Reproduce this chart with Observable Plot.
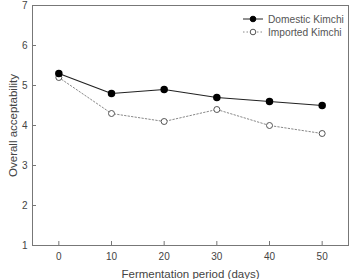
<!DOCTYPE html>
<html><head><meta charset="utf-8">
<script src="https://cdn.jsdelivr.net/npm/d3@7"></script>
<script src="https://cdn.jsdelivr.net/npm/@observablehq/plot@0.6"></script>
<style>
body{margin:0;background:#fff;font-family:"Liberation Sans",Arial,sans-serif;}
#wrap{position:relative;width:350px;height:279px;}
#legend{position:absolute;left:0;top:0;pointer-events:none;}
</style></head>
<body><div id="wrap"></div>
<script>
const days = [0, 10, 20, 30, 40, 50];
const domestic = [5.3, 4.8, 4.9, 4.7, 4.6, 4.5];
const imported = [5.2, 4.3, 4.1, 4.4, 4.0, 3.8];
const seriesNames = ["Domestic Kimchi", "Imported Kimchi"];
const xTicks = [0, 10, 20, 30, 40, 50];
const yTicks = [1, 2, 3, 4, 5, 6, 7];

const dom = days.map((d, i) => ({day: d, v: domestic[i]}));
const imp = days.map((d, i) => ({day: d, v: imported[i]}));

const chart = Plot.plot({
  width: 350, height: 279,
  marginLeft: 32, marginRight: 2, marginTop: 5, marginBottom: 34,
  style: {fontFamily: "Liberation Sans, Arial, sans-serif", fontSize: "10px", color: "#444", background: "#fff"},
  x: {domain: [-5, 55]},
  y: {domain: [1, 7]},
  marks: [
    Plot.frame({stroke: "#777", strokeWidth: 1}),
    Plot.axisX(xTicks, {tickSize: 0, tickPadding: 7, fontSize: 10, fill: "#444", label: "Fermentation period (days)", labelAnchor: "center", labelArrow: "none", labelOffset: 32}),
    Plot.axisX(xTicks, {tickSize: -4, text: null, label: null, stroke: "#777"}),
    Plot.axisY(yTicks, {tickSize: 0, tickPadding: 5, fontSize: 10, fill: "#444", label: "Overall acceptability", labelAnchor: "center", labelArrow: "none", labelOffset: 24}),
    Plot.axisY(yTicks, {tickSize: -4, text: null, label: null, stroke: "#777"}),
    Plot.line(imp, {x: "day", y: "v", stroke: "#888", strokeWidth: 1, strokeDasharray: "1.5,2"}),
    Plot.line(dom, {x: "day", y: "v", stroke: "#222", strokeWidth: 1.2}),
    Plot.dot(imp, {x: "day", y: "v", r: 3, fill: "#fff", stroke: "#555", strokeWidth: 1}),
    Plot.dot(dom, {x: "day", y: "v", r: 3, fill: "#000", stroke: "#000"})
  ]
});
document.getElementById("wrap").appendChild(chart);
chart.querySelectorAll("g[aria-label='x-axis label'], g[aria-label='y-axis label']").forEach(e => e.setAttribute("font-size", "11.5px"));

// Legend overlay
const ns = "http://www.w3.org/2000/svg";
const lg = document.createElementNS(ns, "svg");
lg.setAttribute("id", "legend");
lg.setAttribute("width", 350); lg.setAttribute("height", 60);
const items = [
  {name: seriesNames[0], stroke: "#222", dash: null, fill: "#000", dstroke: "#000"},
  {name: seriesNames[1], stroke: "#888", dash: "1.5,2", fill: "#fff", dstroke: "#555"}
];
items.forEach((it, i) => {
  const y = 19 + i * 13;
  const l = document.createElementNS(ns, "line");
  l.setAttribute("x1", 243); l.setAttribute("x2", 263); l.setAttribute("y1", y); l.setAttribute("y2", y);
  l.setAttribute("stroke", it.stroke); if (it.dash) l.setAttribute("stroke-dasharray", it.dash);
  lg.appendChild(l);
  const c = document.createElementNS(ns, "circle");
  c.setAttribute("cx", 253); c.setAttribute("cy", y); c.setAttribute("r", 2.8);
  c.setAttribute("fill", it.fill); c.setAttribute("stroke", it.dstroke);
  lg.appendChild(c);
  const t = document.createElementNS(ns, "text");
  t.setAttribute("x", 268); t.setAttribute("y", y); t.setAttribute("dy", "0.35em");
  t.setAttribute("font-size", "10.2px"); t.setAttribute("fill", "#555");
  t.setAttribute("font-family", "Liberation Sans, Arial, sans-serif");
  t.textContent = it.name;
  lg.appendChild(t);
});
document.getElementById("wrap").appendChild(lg);
</script></body></html>
